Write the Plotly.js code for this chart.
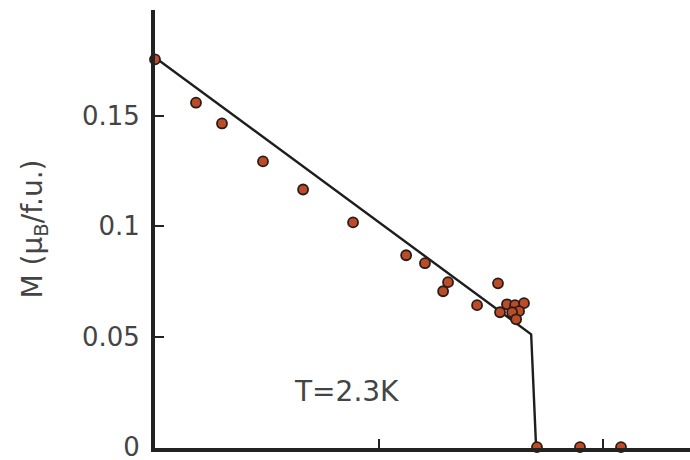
<!DOCTYPE html>
<html>
<head>
<meta charset="utf-8">
<script src="https://cdn.plot.ly/plotly-3.0.1.min.js"></script>
<style>html,body{margin:0;padding:0;background:#fff;}#chart{width:690px;height:460px;}</style>
</head>
<body>
<div id="chart"></div>
<script>
// Measured points (field in arbitrary units, M in muB/f.u.)
const dataX = [0, 0.183, 0.299, 0.482, 0.661, 0.884, 1.121, 1.205, 1.308, 1.286, 1.531, 1.4375, 1.540, 1.571, 1.607, 1.647, 1.625, 1.594, 1.612, 1.705, 1.897, 2.080];
const dataY = [0.1756, 0.156, 0.1466, 0.1294, 0.1167, 0.1018, 0.0869, 0.0833, 0.0747, 0.0706, 0.0742, 0.0643, 0.0611, 0.0647, 0.0643, 0.0652, 0.0616, 0.0611, 0.0579, 0, 0, 0];
// Fitted line
const lineX = [0, 1.629, 1.679, 1.701];
const lineY = [0.1765, 0.0548, 0.0511, 0];
const yTicks = [0, 0.05, 0.1, 0.15];
const yTickText = ['0', '0.05', '0.1', '0.15'];
const xTicks = [1, 2];

const textColor = '#444444';
const axisColor = '#222222';
const fontFam = 'DejaVu Sans, Liberation Sans, sans-serif';

Plotly.newPlot('chart', [
  {x: lineX, y: lineY, mode: 'lines', line: {color: '#1e1e1e', width: 2.4}, cliponaxis: false, hoverinfo: 'skip'},
  {x: dataX, y: dataY, mode: 'markers', cliponaxis: false,
   marker: {size: 10, color: '#bc4b2a', line: {color: '#2a1c16', width: 1.8}}}
], {
  width: 690, height: 460,
  margin: {l: 155, r: 0, t: 10, b: 12},
  paper_bgcolor: '#ffffff', plot_bgcolor: '#ffffff',
  showlegend: false,
  font: {family: fontFam, color: textColor},
  xaxis: {range: [0, 2.388], tickvals: xTicks, showticklabels: false, ticks: 'inside', ticklen: 9, tickwidth: 2, tickcolor: axisColor,
          showline: true, linewidth: 4, linecolor: axisColor, showgrid: false, zeroline: false, mirror: false},
  yaxis: {range: [-0.0004, 0.198], tickvals: yTicks, ticktext: yTickText, ticks: 'inside', ticklen: 9, tickwidth: 2, tickcolor: axisColor,
          showline: true, linewidth: 4, linecolor: axisColor, showgrid: false, zeroline: false, mirror: false,
          ticklabeloverflow: 'allow',
          tickfont: {size: 26, color: textColor, family: fontFam}, ticklabelstandoff: 6,
          title: {text: 'M (μ<sub>B</sub>/f.u.)', font: {size: 28, color: textColor, family: fontFam}, standoff: 32}},
  annotations: [{x: 0.853, y: 0.0253, xref: 'x', yref: 'y', text: 'T=2.3K', showarrow: false, font: {size: 28, color: textColor, family: fontFam}}]
}, {displayModeBar: false, staticPlot: true});
</script>
</body>
</html>
